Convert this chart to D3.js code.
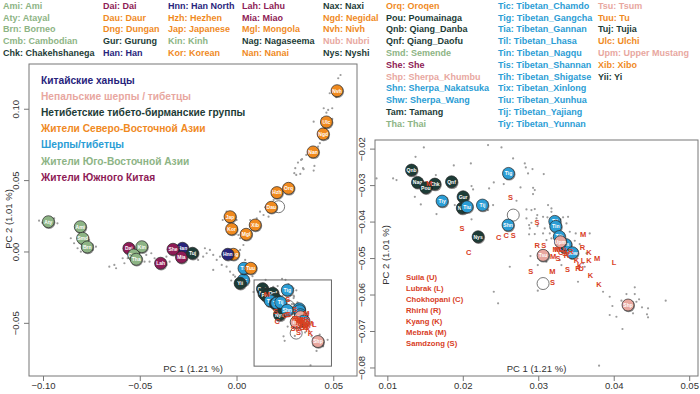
<!DOCTYPE html>
<html>
<head>
<meta charset="utf-8">
<script src="https://cdn.jsdelivr.net/npm/d3@7"></script>
<style>
  body { margin: 0; background: #fff; }
  svg { font-family: "Liberation Sans", Arial, sans-serif; display: block; }
</style>
</head>
<body>
<svg id="chart" width="700" height="394"></svg>
<script>
// population codes shown in the key: [code, name, group]
const legendEntries = [
  ['Ami','Ami','sea'],['Aty','Atayal','sea'],['Brn','Borneo','sea'],['Cmb','Cambodian','sea'],['Chk','Chakehshanega','tb'],
  ['Dai','Dai','sch'],['Dau','Daur','ne'],['Dng','Dungan','ne'],['Gur','Gurung','tb'],['Han','Han','han'],
  ['Hnn','Han North','han'],['Hzh','Hezhen','ne'],['Jap','Japanese','ne'],['Kin','Kinh','sea'],['Kor','Korean','ne'],
  ['Lah','Lahu','sch'],['Mia','Miao','sch'],['Mgl','Mongola','ne'],['Nag','Nagaseema','tb'],['Nan','Nanai','ne'],
  ['Nax','Naxi','tb'],['Ngd','Negidal','ne'],['Nvh','Nivh','ne'],['Nub','Nubri','nep'],['Nys','Nyshi','tb'],
  ['Orq','Oroqen','ne'],['Pou','Poumainaga','tb'],['Qnb','Qiang_Danba','tb'],['Qnf','Qiang_Daofu','tb'],['Smd','Semende','sea'],
  ['She','She','sch'],['Shp','Sherpa_Khumbu','nep'],['Shn','Sherpa_Nakatsuka','tib'],['Shw','Sherpa_Wang','tib'],['Tam','Tamang','tb'],['Tha','Thai','sea'],
  ['Tic','Tibetan_Chamdo','tib'],['Tig','Tibetan_Gangcha','tib'],['Tia','Tibetan_Gannan','tib'],['Til','Tibetan_Lhasa','tib'],['Tin','Tibetan_Nagqu','tib'],
  ['Tis','Tibetan_Shannan','tib'],['Tih','Tibetan_Shigatse','tib'],['Tix','Tibetan_Xinlong','tib'],['Tiu','Tibetan_Xunhua','tib'],['Tij','Tibetan_Yajiang','tib'],['Tiy','Tibetan_Yunnan','tib'],
  ['Tsu','Tsum','nep'],['Tuu','Tu','ne'],['Tuj','Tujia','tb'],['Ulc','Ulchi','ne'],['Upm','Upper Mustang','nep'],['Xib','Xibo','ne'],['Yii','Yi','tb']
];
const legendColumnSizes = [5, 5, 5, 5, 5, 11, 11, 7];

// region groups (key inside the left plot)
const groupNames = [
  ['han', 'Китайские ханьцы'],
  ['nep', 'Непальские шерпы / тибетцы'],
  ['tb',  'Нетибетские тибето-бирманские группы'],
  ['ne',  'Жители Северо-Восточной Азии'],
  ['tib', 'Шерпы/тибетцы'],
  ['sea', 'Жители Юго-Восточной Азии'],
  ['sch', 'Жители Южного Китая']
];
const ancientNames = ['Suila (U)', 'Lubrak (L)', 'Chokhopani (C)', 'Rhirhi (R)', 'Kyang (K)', 'Mebrak (M)', 'Samdzong (S)'];

// population means [code, PC1, PC2] – spread-out ones
const popsWide = [
  ['Aty',-0.0975,0.0212],['Ami',-0.0810,0.0177],['Smd',-0.0798,0.0096],['Brn',-0.0774,0.0035],
  ['Dai',-0.0559,0.0026],['Kin',-0.0492,0.0037],['Cmb',-0.0534,-0.0021],['Tha',-0.0521,-0.0051],
  ['Lah',-0.0395,-0.0079],['Han',-0.0282,0.0026],['She',-0.0331,0.0019],['Mia',-0.0287,-0.0037],
  ['Tuj',-0.0230,-0.0009],['Dng',-0.0019,-0.0016],['Hnn',-0.0048,-0.0016],['Tic',0.0033,-0.0196],
  ['Yii',0.0016,-0.0219],['Tix',0.0036,-0.0114],['Tuu',0.0071,-0.0114],['Jap',-0.0036,0.0247],
  ['Kor',-0.0028,0.0161],['Mgl',0.0047,0.0124],['Xib',0.0094,0.0189],['Dau',0.0177,0.0313],
  ['Hzh',0.0206,0.0416],['Orq',0.0266,0.0446],['Nan',0.0393,0.0701],['Ngd',0.0445,0.0827],
  ['Ulc',0.0462,0.0911],['Nvh',0.0517,0.1130]
];
// population means inside the zoomed window
const popsZoom = [
  ['Qnb',0.01314,-0.02575],['Nag',0.01393,-0.02912],['Chk',0.01623,-0.02959],['Pou',0.01503,-0.0306],
  ['Qnf',0.01844,-0.02896],['Gur',0.01997,-0.03307],['Tiy',0.01719,-0.03425],['Nax',0.01987,-0.03616],
  ['Tiu',0.0205,-0.03581],['Tij',0.02254,-0.03534],['Tig',0.02599,-0.02666],['Nys',0.02196,-0.04403],
  ['Shn',0.02593,-0.04082],['Til',0.03212,-0.03981],['Tin',0.03225,-0.04118],['Tih',0.03272,-0.04397],
  ['Tia',0.03344,-0.04685],['Tis',0.03358,-0.04616],['Upm',0.03287,-0.0454],['Shw',0.03446,-0.04841],
  ['Tsu',0.03057,-0.04912],['Shp',0.04183,-0.06274]
];
// unlabeled (empty) population circles [PC1, PC2]
const emptyPops = [[0.0215,0.0317],[0.02662,-0.03808],[0.03057,-0.05685]];

// ancient individuals [letter, PC1, PC2]
const ancient = [
  ['S',0.01984,-0.04173],['C',0.0247,-0.04419],['C',0.0257,-0.04356],['S',0.02662,-0.04356],
  ['S',0.02978,-0.04019],['S',0.02625,-0.03323],['M',0.01547,-0.0294],['M',0.03587,-0.04337],
  ['C',0.02073,-0.0483],['R',0.02978,-0.04649],['S',0.03066,-0.0463],['R',0.03579,-0.04693],
  ['K',0.03666,-0.0483],['M',0.03772,-0.04995],['L',0.03997,-0.05104],['K',0.03666,-0.05041],
  ['L',0.03587,-0.05041],['M',0.03189,-0.04951],['S',0.03256,-0.04995],['R',0.03367,-0.04904],
  ['K',0.035,-0.05041],['S',0.0338,-0.0530],['M',0.03181,-0.05362],['S',0.02894,-0.05342],
  ['K',0.03543,-0.05178],['R',0.03521,-0.05257],['U',0.03561,-0.0528],['K',0.03685,-0.05452],
  ['K',0.03799,-0.05707],['S',0.03181,-0.05652],['M',0.03225,-0.0474],['U',0.03305,-0.0474],
  ['L',0.03371,-0.04767],['R',0.03424,-0.04795],['C',0.03291,-0.04822],['S',0.03344,-0.04849],
  ['M',0.0325,-0.0476]
];

// modern individuals [PC1, PC2]
const indivWide = [
  [0.0535,0.1240],[0.0523,0.1217],[0.0497,0.1140],[0.0479,0.1112],[0.0513,0.1084],[0.0523,0.1093],[0.0448,0.1007],
  [0.0471,0.0995],[0.0492,0.1007],[0.0462,0.0976],[0.0396,0.0913],[0.0440,0.0937],[0.0479,0.0902],[0.0492,0.0932],
  [0.0462,0.0874],[0.0471,0.0797],[0.0428,0.0762],[0.0419,0.0738],[0.0405,0.0727],[0.0379,0.0703],[0.0358,0.0680],
  [0.0331,0.0645],[0.0315,0.0626],[0.0341,0.0587],[0.0400,0.0603],[0.0301,0.0587],[0.0306,0.0540],[0.0336,0.0650],
  [0.0344,0.0580],[0.0296,0.0552],[0.0327,0.0547],[0.0396,0.0570],[0.0275,0.0481],[0.0241,0.0430],[0.0206,0.0383],
  [0.0189,0.0364],[0.0145,0.0313],[0.0119,0.0282],[0.0137,0.0259],[0.0163,0.0247],[0.0102,0.0236],[0.0068,0.0224],
  [0.0105,0.0154],[0.0033,0.0149],[0.0007,0.0119],[-0.0054,0.0282],[-0.0074,0.0224],[-0.0057,0.0247],[-0.0002,0.0224],
  [-0.0010,0.0154],[0.0016,0.0096],[0.0042,0.0084],[0.0068,0.0119],
  [-0.0859,0.0096],[-0.0842,0.0061],[-0.0747,0.0014],[-0.0729,0.0037],[-0.0660,-0.0103],[-0.0634,-0.0091],
  [-0.0625,-0.0114],[-0.0591,-0.0044],[-0.0582,-0.0079],[-0.0539,0.0014],[-0.0469,-0.0021],[-0.0443,-0.0009],
  [-0.0426,-0.0044],[-0.0417,-0.0079],[-0.0452,-0.0068],[-0.0365,-0.0033],[-0.0348,-0.0068],[-0.0365,-0.0091],
  [-0.0261,-0.0056],[-0.0218,-0.0033],[-0.0201,-0.0056],[-0.0175,-0.0033],[-0.0157,-0.0009],[-0.0140,0.0014],
  [-0.0166,0.0026],[-0.0123,-0.0021],[-0.0105,-0.0056],[-0.0088,-0.0033],[-0.0123,-0.0126],[-0.0079,-0.0091],
  [-0.0054,-0.0103],[-0.0036,-0.0138],[-0.0019,-0.0161],[-0.0010,-0.0173],[0.0042,-0.0056],[0.0016,0.0014],
  [0.0033,0.0049],[-0.0989,0.0224],[-0.1006,0.0205],[-0.0945,0.0236],[-0.0928,0.0201],[-0.1023,0.0219],
  [-0.0790,0.0119],[-0.0764,0.0084],[-0.0746,0.0049],[-0.0824,0.0026],[-0.0807,0.0002],[-0.0565,-0.0044],
  [-0.0504,-0.0009],[-0.0478,-0.0068],[-0.0547,-0.0009],[0.0057,-0.0150],[0.0080,-0.0170],[0.0010,-0.0240],
  [-0.0030,-0.0200]
];
const indivZoom = [
  [0.01477,-0.01953],[0.02328,-0.0189],[0.02506,-0.01953],[0.01367,-0.02211],[0.01874,-0.02447],[0.0266,-0.02255],
  [0.02815,-0.02392],[0.02828,-0.02501],[0.02917,-0.02548],[0.02858,-0.02666],[0.0085,-0.02803],[0.0107,-0.02803],
  [0.01115,-0.02849],[0.01636,-0.02712],[0.02404,-0.02912],[0.02758,-0.03049],[0.02925,-0.0306],[0.02342,-0.03077],
  [0.02109,-0.03014],[0.0213,-0.03104],[0.01358,-0.03307],[0.01437,-0.03515],[0.01887,-0.03534],[0.01931,-0.03534],
  [0.02395,-0.03534],[0.02328,-0.03671],[0.03123,-0.03534],[0.03168,-0.03625],[0.02947,-0.03644],[0.02903,-0.03671],
  [0.01645,-0.03781],[0.02837,-0.03899],[0.0297,-0.03899],[0.03057,-0.03855],[0.03115,-0.03871],[0.03322,-0.03871],
  [0.03388,-0.03855],[0.03367,-0.04036],[0.03287,-0.03926],[0.02903,-0.04019],[0.02983,-0.0411],[0.02109,-0.03926],
  [0.02572,-0.04129],[0.03066,-0.02685],[0.02536,-0.02959],[0.02947,-0.03123],[0.02924,-0.03233],[0.02705,-0.03416],
  [0.02837,-0.03652],[0.0298,-0.03808],[0.03168,-0.03718],[0.02872,-0.04082],[0.02881,-0.04173],[0.03079,-0.04173],
  [0.03057,-0.0431],[0.02947,-0.04329],[0.02872,-0.04337],[0.03146,-0.0431],[0.03411,-0.04266],[0.0349,-0.0431],
  [0.03675,-0.0431],[0.03168,-0.04447],[0.03102,-0.04493],[0.03477,-0.04512],[0.03543,-0.04603],[0.03632,-0.04858],
  [0.02991,-0.04995],[0.0289,-0.04932],[0.03278,-0.05041],[0.03102,-0.05088],[0.03433,-0.04995],[0.03587,-0.05132],
  [0.03609,-0.05225],[0.02616,-0.05225],[0.02987,-0.05178],[0.033,-0.05178],[0.0352,-0.05636],[0.02987,-0.05882],
  [0.03852,-0.0591],[0.0394,-0.06047],[0.04272,-0.05789],[0.04162,-0.05973],[0.02404,-0.0591],[0.02461,-0.06227],
  [0.03976,-0.06301],[0.0394,-0.06548],[0.04029,-0.06595],[0.04095,-0.06156],[0.04139,-0.06247],[0.04272,-0.05973],
  [0.04294,-0.06184],[0.04329,-0.06118],[0.04368,-0.06337],[0.04448,-0.06364],[0.04434,-0.06529],[0.04448,-0.06611],
  [0.04249,-0.06501],[0.04109,-0.06932],[0.04682,-0.06156],[0.03799,-0.07937],[0.0210,-0.02392],[0.02646,-0.02603]
];

// axis ticks
const pc1TicksWide = [-0.10, -0.05, 0.00, 0.05];
const pc2TicksWide = [-0.05, 0.00, 0.05, 0.10];
const pc1TicksZoom = [0.01, 0.02, 0.03, 0.04, 0.05];
const pc2TicksZoom = [-0.08, -0.07, -0.06, -0.05, -0.04, -0.03, -0.02];
const zoomWindow = [0.0088, 0.0488, -0.0800, -0.0196];   // pc1 min/max, pc2 min/max of the boxed area

const colour = { sea:'#8db485', sch:'#8e1b56', han:'#28247c', ne:'#f08a1f', tb:'#1d3c37', nep:'#e8a79f', tib:'#2b9dd5' };
const RED = '#d8401f', AXIS = '#777', INK = '#333';
const groupOf = new Map(legendEntries.map(d => [d[0], d[2]]));
const fmt = d3.format('.2f');

const svg = d3.select('#chart');
const defs = svg.append('defs');

// ---- top key: 8 columns of code: name
const colX = [3, 103, 168, 242, 323, 386, 498, 598];
let start = 0;
legendColumnSizes.forEach((n, c) => {
  svg.append('g').selectAll('text').data(legendEntries.slice(start, start + n)).join('text')
    .attr('x', colX[c]).attr('y', (d, r) => 8.8 + r * 11.8)
    .attr('font-size', 9).attr('font-weight', 'bold')
    .attr('fill', d => colour[d[2]])
    .text(d => `${d[0]}: ${d[1]}`);
  start += n;
});

function panel(p) {
  const x = d3.scaleLinear(p.xd, [p.x0, p.x1]);
  const y = d3.scaleLinear(p.yd, [p.y1, p.y0]);
  defs.append('clipPath').attr('id', p.id)
    .append('rect').attr('x', p.x0).attr('y', p.y0).attr('width', p.x1 - p.x0).attr('height', p.y1 - p.y0);

  const g = svg.append('g').attr('clip-path', `url(#${p.id})`);

  // individuals
  g.append('g').selectAll('circle').data(indivWide.concat(indivZoom)).join('circle')
    .attr('cx', d => x(d[0])).attr('cy', d => y(d[1])).attr('r', 1.1).attr('fill', '#9c9c9c');

  // empty circles
  g.append('g').selectAll('circle').data(emptyPops).join('circle')
    .attr('cx', d => x(d[0])).attr('cy', d => y(d[1])).attr('r', 6)
    .attr('fill', 'none').attr('stroke', '#555').attr('stroke-width', 0.8);

  // population means
  const pop = g.append('g').selectAll('g').data(popsWide.concat(popsZoom)).join('g')
    .attr('transform', d => `translate(${x(d[1])},${y(d[2])})`);
  pop.append('circle').attr('cx', 0.6).attr('cy', 0.8).attr('r', 6.4).attr('fill', '#000').attr('opacity', 0.45);
  pop.append('circle').attr('r', 6).attr('fill', d => colour[groupOf.get(d[0])])
    .attr('stroke', '#2a2a2a').attr('stroke-width', 0.7);
  pop.append('text').attr('text-anchor', 'middle').attr('y', 1.8)
    .attr('font-size', 5).attr('font-weight', 'bold').attr('fill', '#fff').text(d => d[0]);

  // ancient samples
  g.append('g').selectAll('text').data(ancient).join('text')
    .attr('x', d => x(d[1])).attr('y', d => y(d[2]) + 2.6)
    .attr('text-anchor', 'middle').attr('font-size', 7.5).attr('font-weight', 'bold')
    .attr('fill', RED).text(d => d[0]);

  // frame + ticks
  svg.append('rect').attr('x', p.x0).attr('y', p.y0).attr('width', p.x1 - p.x0).attr('height', p.y1 - p.y0)
    .attr('fill', 'none').attr('stroke', AXIS).attr('stroke-width', 1);

  const ax = svg.append('g');
  ax.selectAll('line.xt').data(p.xt).join('line').attr('class', 'xt')
    .attr('x1', d => x(d)).attr('x2', d => x(d)).attr('y1', p.y1).attr('y2', p.y1 + 5)
    .attr('stroke', AXIS);
  ax.selectAll('text.xt').data(p.xt).join('text').attr('class', 'xt')
    .attr('x', d => x(d)).attr('y', p.y1 + 13).attr('text-anchor', 'middle')
    .attr('font-size', 9.5).attr('fill', INK).text(fmt);
  ax.selectAll('line.yt').data(p.yt).join('line').attr('class', 'yt')
    .attr('y1', d => y(d)).attr('y2', d => y(d)).attr('x1', p.x0).attr('x2', p.x0 - 5)
    .attr('stroke', AXIS);
  ax.selectAll('text.yt').data(p.yt).join('text').attr('class', 'yt')
    .attr('transform', d => `translate(${p.x0 - 10.5},${y(d)}) rotate(-90)`)
    .attr('text-anchor', 'middle').attr('font-size', 9.5).attr('fill', INK).text(fmt);

  svg.append('text').attr('x', (p.x0 + p.x1) / 2).attr('y', p.y1 - 4)
    .attr('text-anchor', 'middle').attr('font-size', 9.5).attr('fill', INK).text('PC 1 (1.21 %)');
  svg.append('text').attr('transform', `translate(${p.ylabX},${p.ylabY}) rotate(-90)`)
    .attr('text-anchor', 'middle').attr('font-size', 9.5).attr('fill', INK).text('PC 2 (1.01 %)');

  return { x, y };
}

const wide = panel({ id: 'clipWide', xd: [-0.1075, 0.062], yd: [-0.0869, 0.1317],
  x0: 29, x1: 357, y0: 64, y1: 376, xt: pc1TicksWide, yt: pc2TicksWide, ylabX: 11.5, ylabY: 219 });

// boxed zoom window on the wide panel
svg.append('rect')
  .attr('x', wide.x(zoomWindow[0])).attr('y', wide.y(zoomWindow[3]))
  .attr('width', wide.x(zoomWindow[1]) - wide.x(zoomWindow[0]))
  .attr('height', wide.y(zoomWindow[2]) - wide.y(zoomWindow[3]))
  .attr('fill', 'none').attr('stroke', '#666').attr('stroke-width', 1);

// group key
svg.append('g').selectAll('text').data(groupNames).join('text')
  .attr('x', 41).attr('y', (d, i) => 84 + i * 16.1)
  .attr('font-size', 10.2).attr('font-weight', 'bold')
  .attr('fill', d => colour[d[0]]).text(d => d[1]);

panel({ id: 'clipZoom', xd: [0.0083, 0.0511], yd: [-0.0822, -0.0175],
  x0: 375, x1: 698, y0: 140, y1: 376, xt: pc1TicksZoom, yt: pc2TicksZoom, ylabX: 388.5, ylabY: 255 });

// ancient site key
svg.append('g').selectAll('text').data(ancientNames).join('text')
  .attr('x', 406).attr('y', (d, i) => 280 + i * 11)
  .attr('font-size', 7.7).attr('font-weight', 'bold').attr('fill', RED).text(d => d);
</script>
</body>
</html>
